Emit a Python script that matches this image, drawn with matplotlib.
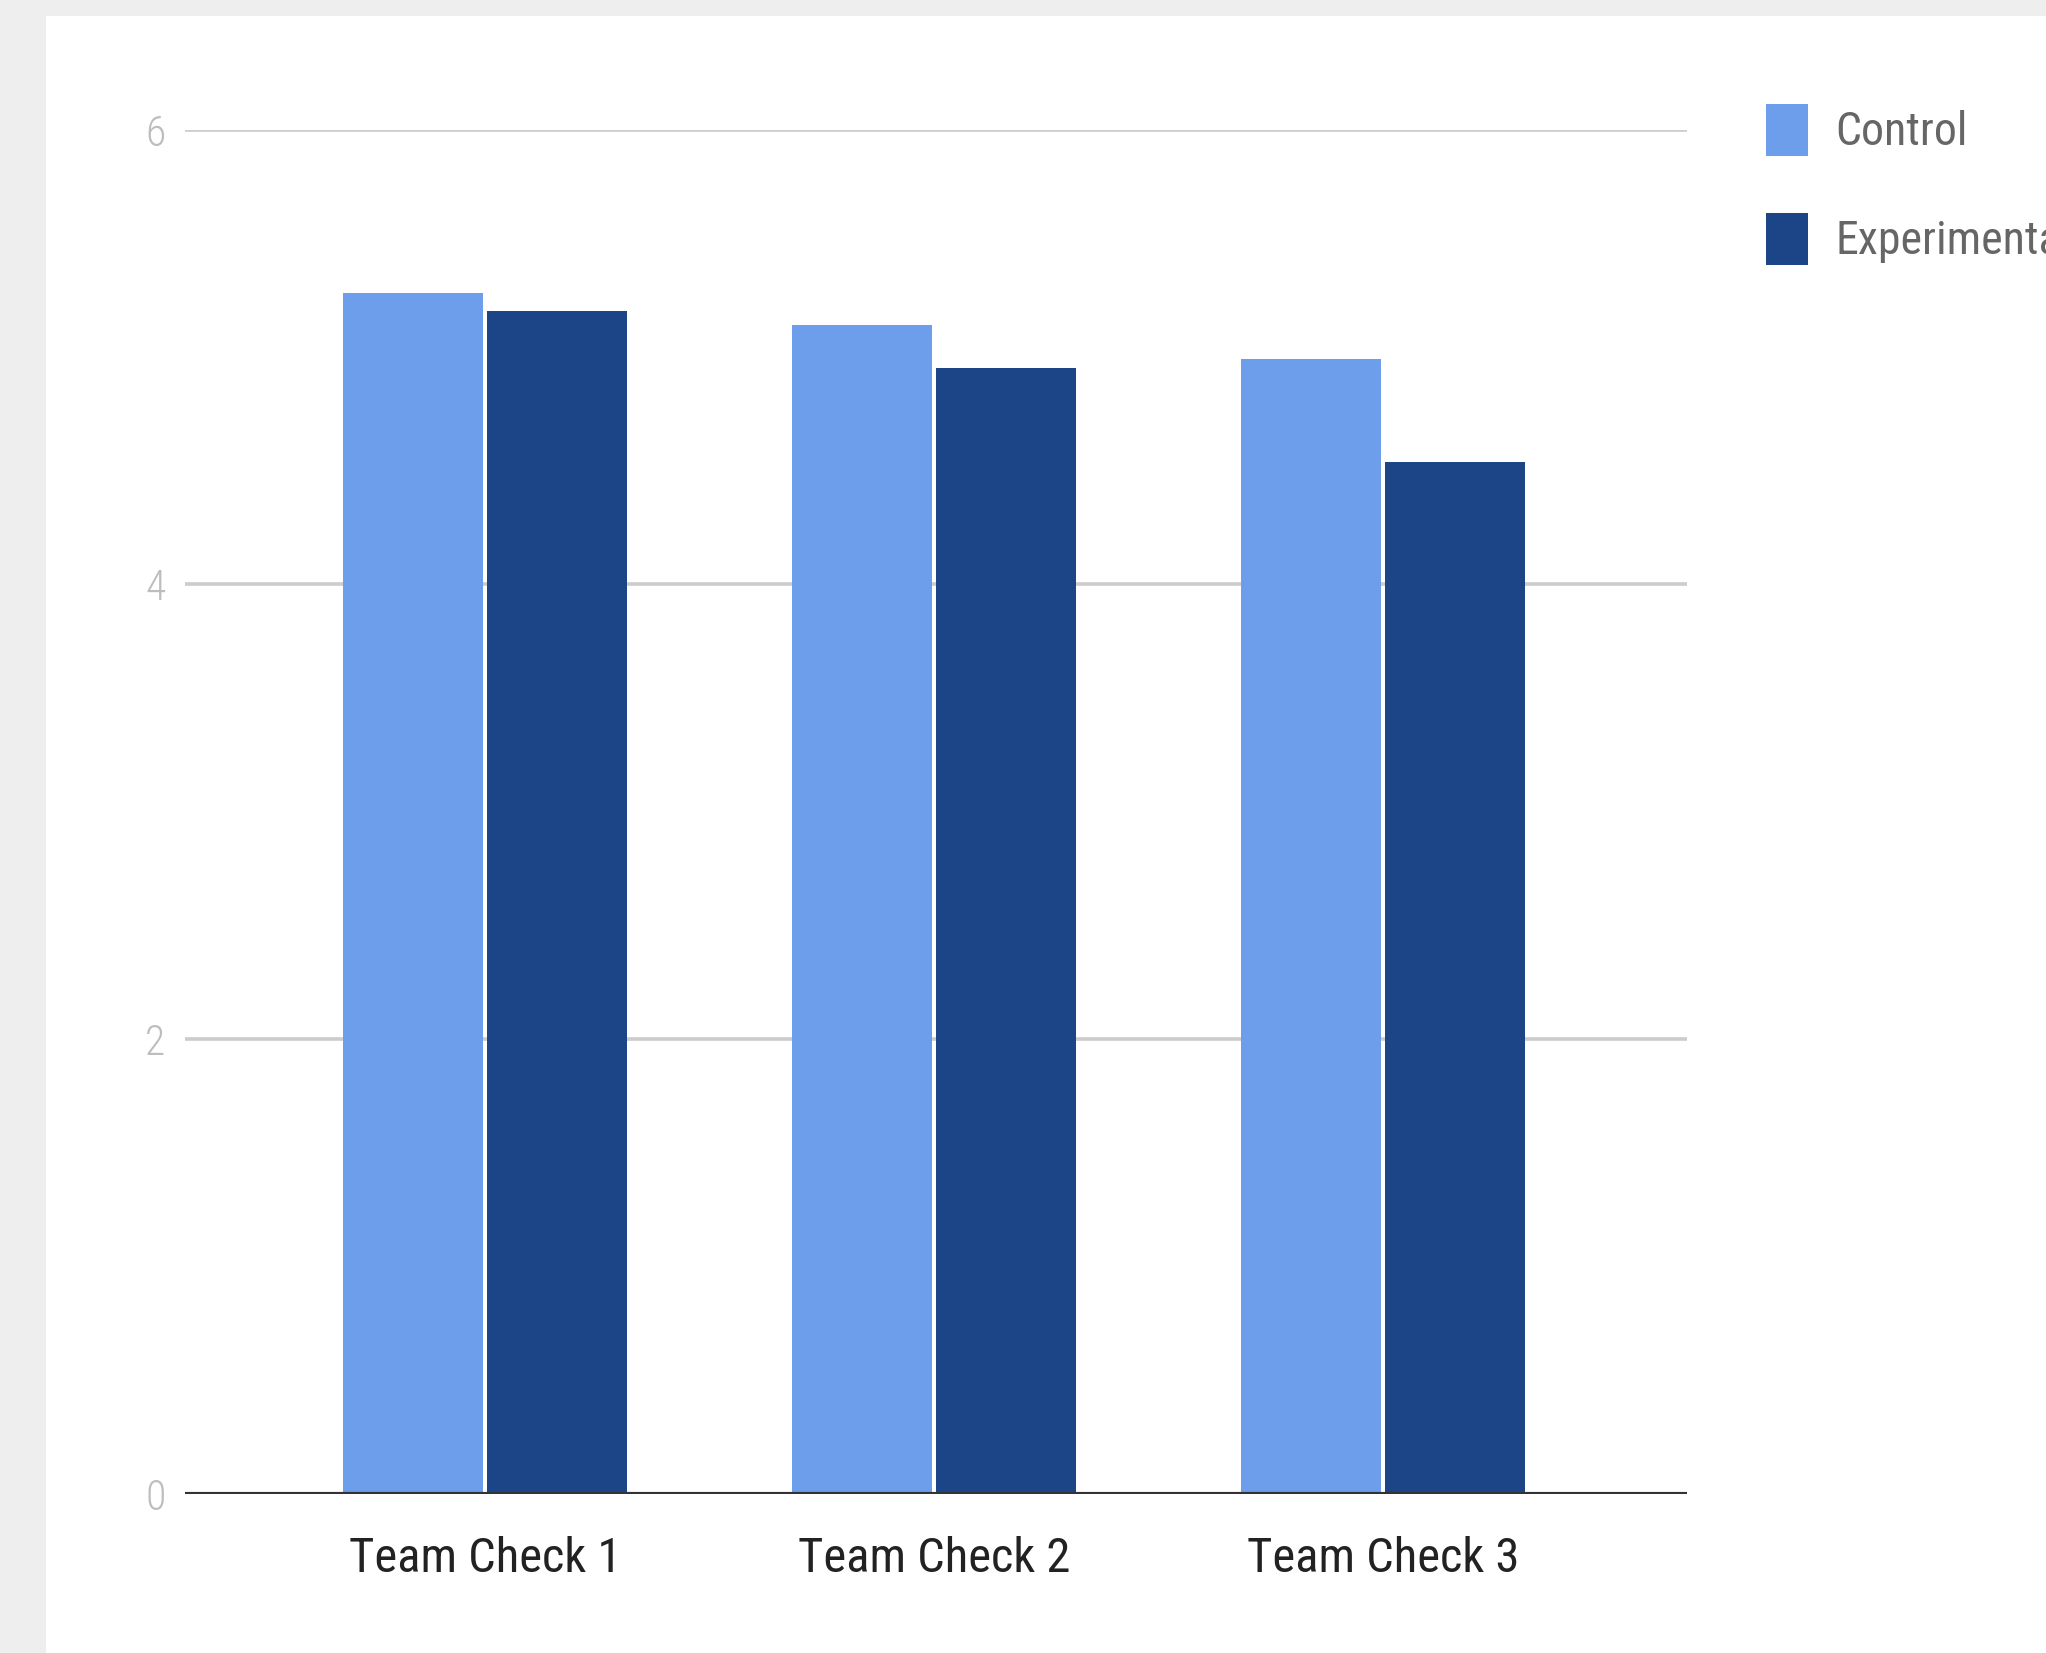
import matplotlib

matplotlib.use("Agg")
import matplotlib.pyplot as plt
import numpy as np
from matplotlib.patches import Rectangle

categories = ["Team Check 1", "Team Check 2", "Team Check 3"]
control = [5.28, 5.14, 4.99]
experimental = [5.20, 4.95, 4.54]
series_names = ["Control", "Experimental"]
y_ticks = [0, 2, 4, 6]

CONTROL_COLOR = "#6d9eeb"
EXPERIMENTAL_COLOR = "#1c4587"
FONT = ["Roboto Condensed", "Liberation Sans Narrow", "Roboto", "DejaVu Sans"]

plt.rcParams["font.family"] = FONT

fig = plt.figure(figsize=(20.46, 16.53), dpi=100)
fig.patch.set_facecolor("#eeeeee")
# white card on the grey page
fig.add_artist(Rectangle((46 / 2046, 0), 1.0, 1 - 16 / 1653, transform=fig.transFigure,
                         facecolor="white", edgecolor="none", zorder=0))

ax = fig.add_axes([185 / 2046, 158.7 / 1653, 1502 / 2046, 1364.8 / 1653])
ax.set_facecolor("none")

x = np.arange(len(categories))
width = 0.312
offset = 0.161
ax.bar(x - offset, control, width, color=CONTROL_COLOR, label=series_names[0], zorder=3)
ax.bar(x + offset, experimental, width, color=EXPERIMENTAL_COLOR, label=series_names[1], zorder=3)

ax.set_xlim(-0.668, 2.677)
ax.set_ylim(0, 6)
ax.set_yticks(y_ticks)
ax.set_yticklabels([str(t) for t in y_ticks])
ax.set_xticks(x)
ax.set_xticklabels(categories)

for t in y_ticks[1:]:
    ax.axhline(t, color="#cccccc", linewidth=2.6, zorder=1)
ax.axhline(0, color="#333333", linewidth=3.0, zorder=4)

for side in ["top", "right", "left", "bottom"]:
    ax.spines[side].set_visible(False)
ax.tick_params(axis="both", length=0)
ax.tick_params(axis="y", pad=14, labelsize=30, labelcolor="#bdbdbd")
ax.tick_params(axis="x", pad=30, labelsize=35, labelcolor="#222222")
for lbl in ax.get_yticklabels():
    lbl.set_fontweight("light")

leg = ax.legend(loc="upper left", bbox_to_anchor=(1748 / 2046, 1 - 86 / 1653),
                bbox_transform=fig.transFigure, frameon=False, fontsize=33,
                handlelength=0.9, handleheight=1.35, handletextpad=0.6,
                labelspacing=1.25, borderaxespad=0)
for txt in leg.get_texts():
    txt.set_color("#666666")

fig.savefig("out.png", dpi=100, facecolor=fig.get_facecolor())
